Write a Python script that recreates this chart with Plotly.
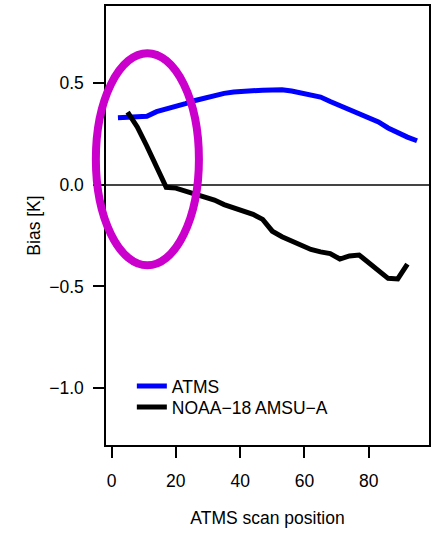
import plotly.graph_objects as go

# ATMS scan-position bias (ATMS field-of-view index)
atms_pos = [2, 5, 8, 11, 14, 17, 20, 23, 26, 29, 32, 35, 38, 41, 44, 47,
            50, 53, 56, 59, 62, 65, 68, 71, 74, 77, 80, 83, 86, 89, 92, 95]
atms_bias = [0.330, 0.333, 0.333, 0.337, 0.360, 0.372, 0.385, 0.400, 0.415,
             0.428, 0.440, 0.450, 0.457, 0.462, 0.465, 0.466, 0.467, 0.468,
             0.462, 0.452, 0.442, 0.432, 0.410, 0.390, 0.370, 0.350, 0.333,
             0.310, 0.280, 0.255, 0.235, 0.217]

# NOAA-18 AMSU-A bias, 30 fields of view mapped onto ATMS scan positions
amsua_pos = [5, 8, 11, 14, 17, 20, 23, 26, 29, 32, 35, 38, 41, 44, 47,
             50, 53, 56, 59, 62, 65, 68, 71, 74, 77, 80, 83, 86, 89, 92]
amsua_bias = [0.358, 0.285, 0.190, 0.090, -0.012, -0.016, -0.030, -0.050,
              -0.060, -0.075, -0.097, -0.112, -0.125, -0.145, -0.170, -0.228,
              -0.255, -0.278, -0.300, -0.318, -0.330, -0.338, -0.365, -0.350,
              -0.345, -0.385, -0.420, -0.460, -0.463, -0.390]

x_ticks = [0, 20, 40, 60, 80]
y_ticks = [-1.0, -0.5, 0.0, 0.5]
y_tick_text = ["\u22121.0", "\u22120.5", "0.0", "0.5"]

FONT = "Liberation Sans, Arial, sans-serif"

fig = go.Figure()
fig.add_trace(go.Scatter(x=atms_pos, y=atms_bias, mode="lines", name="ATMS",
                         line=dict(color="#0000ff", width=5),
                         legend="legend"))
fig.add_trace(go.Scatter(x=amsua_pos, y=amsua_bias, mode="lines",
                         name="NOAA\u221218 AMSU\u2212A",
                         line=dict(color="#000000", width=5),
                         legend="legend2"))

# highlight ellipse around the near-nadir region (paper coordinates so it can
# extend past the left frame)
W, H = 325.0, 439.0
L, B = 106.0, 445.0
cx0, cx1 = 95.8, 199.5
cy0, cy1 = 53.2, 265.3
fig.add_shape(type="circle", xref="paper", yref="paper",
              x0=(cx0 - L) / W, x1=(cx1 - L) / W,
              y0=(B - cy1) / H, y1=(B - cy0) / H,
              line=dict(color="#cc00cc", width=8), layer="above")

legend_style = dict(x=0.080, xanchor="left", yanchor="middle",
                    bgcolor="rgba(0,0,0,0)", font=dict(size=17.5))

fig.update_layout(
    width=435, height=534,
    margin=dict(l=106, r=4, t=6, b=89),
    paper_bgcolor="white", plot_bgcolor="white",
    font=dict(family=FONT, size=17.5, color="black"),
    showlegend=True,
    legend=dict(y=(B - 386) / H, **legend_style),
    legend2=dict(y=(B - 407) / H, **legend_style),
    xaxis=dict(range=[-1.72, 98.72], tickvals=x_ticks, ticks="outside",
               ticklen=11, tickwidth=1.5, tickcolor="black",
               showline=True, mirror=True, linecolor="black", linewidth=1.5,
               showgrid=False, zeroline=False, ticklabelstandoff=8,
               title=dict(text="ATMS scan position", standoff=22,
                          font=dict(size=17.5))),
    yaxis=dict(range=[-1.28, 0.88], tickvals=y_ticks, ticktext=y_tick_text,
               ticks="outside", ticklen=11, tickwidth=1.5, tickcolor="black",
               showline=True, mirror=True, linecolor="black", linewidth=1.5,
               showgrid=False, zeroline=True, zerolinecolor="#444444",
               zerolinewidth=1.5, ticklabelstandoff=6,
               title=dict(text="Bias [K]", standoff=4,
                          font=dict(size=17.5))),
)

fig.write_html("out.html")
